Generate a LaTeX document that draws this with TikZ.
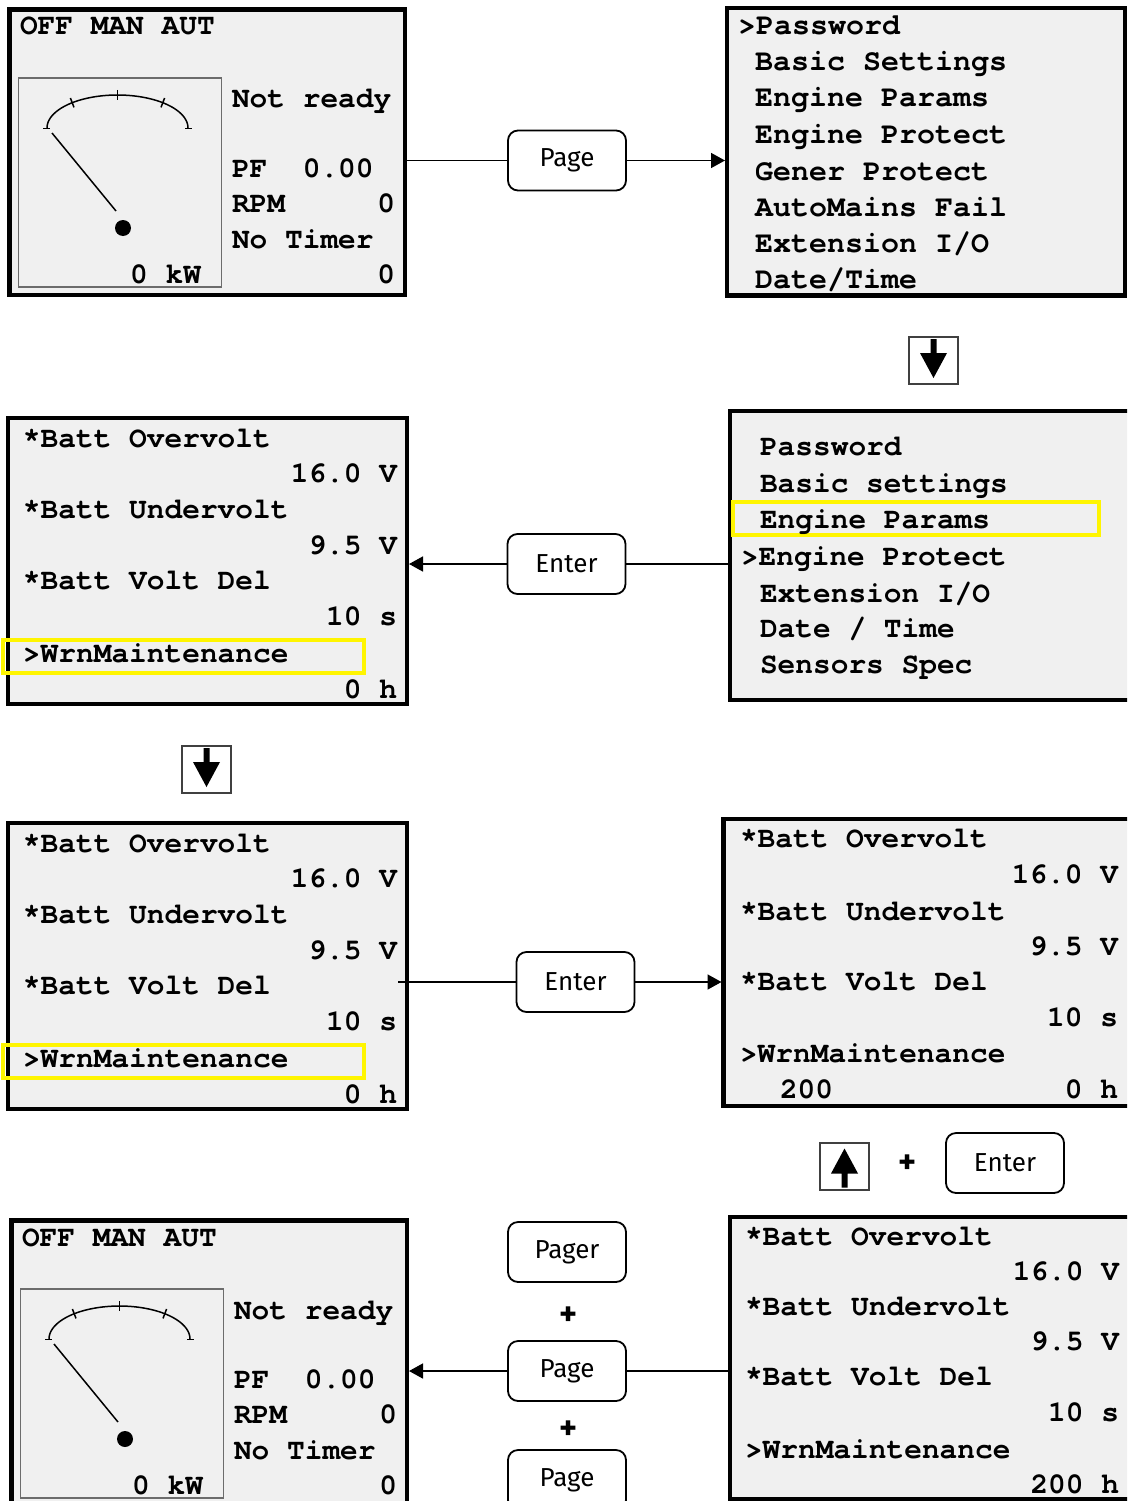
\documentclass[tikz,border=0pt]{standalone}
\usepackage{fontspec}
\usetikzlibrary{arrows.meta,calc}
\newfontfamily\scrfont{texgyrecursor}[Extension=.otf, UprightFont=*-regular, BoldFont=*-bold]
\newfontfamily\btnfont{Fira Sans}
\definecolor{scrbg}{HTML}{F0F0F0}
\definecolor{hl}{RGB}{255,245,0}
\definecolor{keyedge}{HTML}{404040}
\tikzset{
  panel/.style={draw=black, fill=scrbg, line width=4.5pt, outer sep=0pt, inner sep=0pt, anchor=north west},
  gaugebox/.style={draw=gray!85!black, line width=1.8pt, inner sep=0pt, outer sep=0pt, anchor=north west},
  gline/.style={line width=1.5pt},
  scr/.style={font=\scrfont\bfseries\fontsize{29.5}{30}\selectfont, inner sep=0pt, outer sep=0pt},
  scrb/.style={font=\scrfont\bfseries\fontsize{30}{30}\selectfont, inner sep=0pt, outer sep=0pt},
  hlbox/.style={draw=hl, line width=3.5pt, inner sep=0pt, outer sep=0pt, anchor=north west},
  btn/.style={draw, rounded corners=10pt, line width=1.8pt, minimum width=118pt, minimum height=60pt,
    font=\btnfont\fontsize{26}{28}\selectfont, inner sep=0pt, outer sep=0pt},
  plus/.style={font=\btnfont\bfseries\fontsize{34}{36}\selectfont, inner sep=0pt},
  conn/.style={line width=1.6pt},
  arr/.style={conn, -{Triangle[length=14pt,width=15pt]}, shorten >=2pt},
  keybox/.style={draw=keyedge, line width=2pt, fill=white, minimum width=49pt, minimum height=47pt, inner sep=0pt, outer sep=0pt}
}
\newcommand\scrL[4]{\node[scr,anchor=base west] (#1) at (#2,#3) {#4};}
\newcommand\scrR[4]{\node[scr,anchor=base east] (#1) at (#2,#3) {#4};}
\newcommand\scrB[4]{\node[scrb,anchor=base west] (#1) at (#2,#3) {#4};}
\newcommand\arrowkey[4]{%
  \node[keybox] (#1) at (#2,#3) {};
  \fill[shift={(#2,#3)}, rotate=#4, line join=round]
    (-3,-21) -- (3,-21) -- (3,-7) -- (13.5,-7) -- (0,18) -- (-13.5,-7) -- (-3,-7) -- cycle;
}
\newcommand\genscreen[3]{%
  \begin{scope}[shift={(#2,#3)}]
    \node[panel, minimum width=395.5pt, minimum height=285.5pt] (#1) at (9.5,9.5) {};
    \node[gaugebox, minimum width=203pt, minimum height=209pt] (#1g) at (18.5,78) {};
    \draw[gline] plot[domain=180:360, samples=60] ({117.5+70.5*cos(\x)},{128+33*sin(\x)});
    \draw[gline] (43,128.5) -- (50,128.5);
    \draw[gline] (185,128.5) -- (192,128.5);
    \draw[gline] (70.4,98) -- (74,107.4);
    \draw[gline] (117.5,90) -- (117.5,100);
    \draw[gline] (164.6,98) -- (161,107.4);
    \draw[gline] (52,133) -- (116,211);
    \fill (123,228) circle[radius=8];
    \scrL{#1t1}{20}{35}{OFF MAN AUT}
    \scrL{#1t2}{232}{108}{Not ready}
    \scrL{#1t3}{232}{177}{PF~~0.00}
    \scrL{#1t4}{232}{212}{RPM}
    \scrR{#1t5}{395}{212}{0}
    \scrL{#1t6}{232}{248}{No Timer}
    \scrR{#1t7}{395}{283}{0}
    \scrR{#1t8}{201}{283}{0 kW}
  \end{scope}
}
\begin{document}
\begin{tikzpicture}[x=1pt, y=-1pt]
\useasboundingbox (0,0) rectangle (1127,1501);
\clip (0,0) rectangle (1127,1501);
\fill[white] (0,0) rectangle (1127,1501);

% ---------- Panel A (top left) ----------
\genscreen{A}{0}{0}

% ---------- Panel B (top right menu) ----------
\node[panel, minimum width=398pt, minimum height=287.5pt] (B) at (727,8) {};
\scrB{B1}{738}{35}{>Password}
\scrB{B2}{755}{71}{Basic Settings}
\scrB{B3}{755}{107}{Engine Params}
\scrB{B4}{755}{143}{Engine Protect}
\scrB{B5}{755}{180}{Gener Protect}
\scrB{B6}{755}{216}{AutoMains Fail}
\scrB{B7}{755}{252}{Extension I/O}
\scrB{B8}{755}{288}{Date/Time}

% ---------- Panel C (second menu) ----------
\node[panel, minimum width=402pt, minimum height=289pt] (C) at (730,411) {};
\node[hlbox, minimum width=366pt, minimum height=33pt] (Ch) at (733,502) {};
\scrL{C1}{760}{455}{Password}
\scrL{C2}{760}{492}{Basic settings}
\scrL{C3}{760}{528}{Engine Params}
\scrL{C4}{741}{565}{>Engine Protect}
\scrL{C5}{760}{602}{Extension I/O}
\scrL{C6}{760}{637}{Date / Time}
\scrL{C7}{760}{673}{Sensors Spec}

% ---------- Panel D ----------
\node[panel, minimum width=399pt, minimum height=286pt] (D) at (8,418) {};
\node[hlbox, minimum width=361pt, minimum height=33pt] (Dh) at (3,640) {};
\scrL{D1}{23}{447}{*Batt Overvolt}
\scrR{D2}{397}{482}{16.0 V}
\scrL{D3}{23}{518}{*Batt Undervolt}
\scrR{D4}{397}{554}{9.5 V}
\scrL{D5}{23}{589}{*Batt Volt Del}
\scrR{D6}{397}{625}{10 s}
\scrL{D7}{23}{662}{>WrnMaintenance}
\scrR{D8}{397}{698}{0 h}

% ---------- Panel E ----------
\node[panel, minimum width=399pt, minimum height=286pt] (E) at (8,823) {};
\node[hlbox, minimum width=361pt, minimum height=33pt] (Eh) at (3,1045) {};
\scrL{E1}{23}{852}{*Batt Overvolt}
\scrR{E2}{397}{887}{16.0 V}
\scrL{E3}{23}{923}{*Batt Undervolt}
\scrR{E4}{397}{959}{9.5 V}
\scrL{E5}{23}{994}{*Batt Volt Del}
\scrR{E6}{397}{1030}{10 s}
\scrL{E7}{23}{1067}{>WrnMaintenance}
\scrR{E8}{397}{1103}{0 h}

% ---------- Panel F ----------
\node[panel, minimum width=408pt, minimum height=287pt] (F) at (723.5,819) {};
\scrL{F1}{740}{847}{*Batt Overvolt}
\scrR{F2}{1118}{883}{16.0 V}
\scrL{F3}{740}{920}{*Batt Undervolt}
\scrR{F4}{1118}{955}{9.5 V}
\scrL{F5}{740}{990}{*Batt Volt Del}
\scrR{F6}{1118}{1026}{10 s}
\scrL{F7}{740}{1062}{>WrnMaintenance}
\scrL{F8}{780}{1098}{200}
\scrR{F9}{1118}{1098}{0 h}

% ---------- Panel G ----------
\node[panel, minimum width=402pt, minimum height=282pt] (G) at (730,1217) {};
\scrL{G1}{745}{1245}{*Batt Overvolt}
\scrR{G2}{1119}{1280}{16.0 V}
\scrL{G3}{745}{1315}{*Batt Undervolt}
\scrR{G4}{1119}{1350}{9.5 V}
\scrL{G5}{745}{1385}{*Batt Volt Del}
\scrR{G6}{1119}{1421}{10 s}
\scrL{G7}{745}{1458}{>WrnMaintenance}
\scrR{G8}{1119}{1493}{200 h}

% ---------- Panel H (bottom left) ----------
\genscreen{H}{2}{1211}

% ---------- buttons and keys ----------
\node[btn] (pg1) at (567,160.5) {Page};
\node[btn] (en1) at (566.5,564) {Enter};
\node[btn] (en2) at (575.5,982) {Enter};
\node[btn] (en3) at (1005,1163) {Enter};
\node[btn] (pgr) at (567,1252) {Pager};
\node[btn] (pg2) at (567,1371) {Page};
\node[btn] (pg3) at (567,1480) {Page};
\node[plus] (pl1) at (908,1164) {+};
\node[plus] (pl2) at (569,1316) {+};
\node[plus] (pl3) at (569,1430) {+};
\arrowkey{k1}{933.5}{360}{0}
\arrowkey{k2}{206.5}{769}{0}
\arrowkey{k3}{844.5}{1166.5}{180}

% ---------- connectors ----------
\draw[conn] (pg1.west -| A.east) -- (pg1.west);
\draw[arr] (pg1.east) -- (pg1.east -| B.west);
\draw[conn] (en1.east -| C.west) -- (en1.east);
\draw[arr] (en1.west) -- (en1.west -| D.east);
\draw[conn] ($(en2.west -| E.east)+(-9,0)$) -- (en2.west);
\draw[arr] (en2.east) -- (en2.east -| F.west);
\draw[conn] (pg2.east -| G.west) -- (pg2.east);
\draw[arr] (pg2.west) -- (pg2.west -| H.east);
\end{tikzpicture}
\end{document}
